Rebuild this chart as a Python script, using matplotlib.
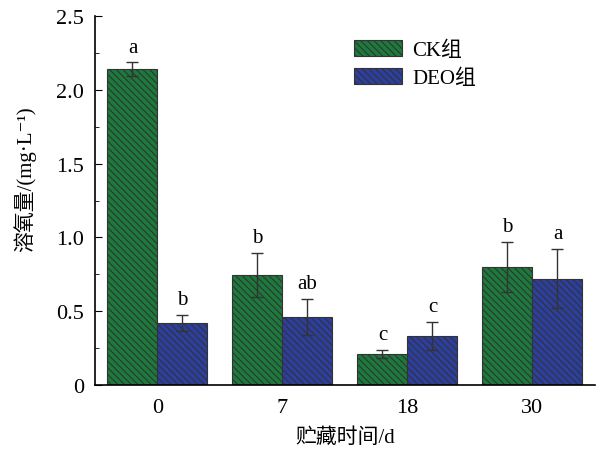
import matplotlib
matplotlib.use("Agg")
import matplotlib.pyplot as plt
import numpy as np
from matplotlib.ticker import MultipleLocator

plt.rcParams['font.family'] = ['Liberation Serif', 'Noto Sans CJK SC', 'DejaVu Serif']
plt.rcParams['hatch.linewidth'] = 0.8
plt.rcParams['hatch.color'] = '#111111'

categories = ['0', '7', '18', '30']
ck_values = [2.14, 0.745, 0.21, 0.80]
ck_errors = [0.045, 0.15, 0.025, 0.17]
deo_values = [0.42, 0.46, 0.33, 0.72]
deo_errors = [0.055, 0.12, 0.095, 0.20]
ck_letters = ['a', 'b', 'c', 'b']
deo_letters = ['b', 'ab', 'c', 'a']

fig = plt.figure(figsize=(6.03, 4.52), dpi=100)
ax = fig.add_axes([0.1575, 0.146, 0.8292, 0.8164])

x = np.arange(len(categories))
w = 0.4
green = '#1b7a3c'
blue = '#2c3f9f'
hatch = '\\' * 5
ax.bar(x - w/2, ck_values, w, color=green, edgecolor='#333333', linewidth=0.8,
       hatch=hatch, label='CK组')
ax.bar(x + w/2, deo_values, w, color=blue, edgecolor='#333333', linewidth=0.8,
       hatch=hatch, label='DEO组')
ax.errorbar(x - w/2, ck_values, yerr=ck_errors, fmt='none', ecolor='#333333',
            elinewidth=1, capsize=4, capthick=1)
ax.errorbar(x + w/2, deo_values, yerr=deo_errors, fmt='none', ecolor='#333333',
            elinewidth=1, capsize=4, capthick=1)

for xi, v, e, t in zip(x - w/2, ck_values, ck_errors, ck_letters):
    ax.text(xi, v + e + 0.04, t, ha='center', va='bottom', fontsize=15)
for xi, v, e, t in zip(x + w/2, deo_values, deo_errors, deo_letters):
    ax.text(xi, v + e + 0.04, t, ha='center', va='bottom', fontsize=15)

ax.set_xlim(-0.5, 3.5)
ax.set_ylim(0, 2.5)
ax.set_xticks(x)
ax.set_xticklabels(categories)
ax.tick_params(axis='x', length=0, labelsize=16, pad=9)
ax.yaxis.set_major_locator(MultipleLocator(0.5))
ax.yaxis.set_minor_locator(MultipleLocator(0.25))
ax.set_yticks([0, 0.5, 1.0, 1.5, 2.0, 2.5])
ax.set_yticklabels(['0', '0.5', '1.0', '1.5', '2.0', '2.5'])
ax.tick_params(axis='y', which='both', direction='in', labelsize=16, pad=8)
ax.tick_params(axis='y', which='major', length=5)
ax.tick_params(axis='y', which='minor', length=3)
ax.spines['top'].set_visible(False)
ax.spines['right'].set_visible(False)
ax.spines['left'].set_linewidth(1.2)
ax.spines['bottom'].set_linewidth(1.2)

ax.set_ylabel('溶氧量/(mg·L\u207b\u00b9)', fontsize=15)
ax.yaxis.label.set_verticalalignment('center')
ax.yaxis.set_label_coords(-0.14, 0.56)
ax.set_xlabel('贮藏时间/d', fontsize=15)
ax.xaxis.label.set_verticalalignment('center')
ax.xaxis.set_label_coords(0.5, -0.141)

ax.legend(loc='upper left', bbox_to_anchor=(0.48, 0.985), frameon=False,
          fontsize=15, handlelength=2.3, handleheight=0.8, labelspacing=0.35,
          handletextpad=0.5)

fig.savefig('out.png', dpi=100)
